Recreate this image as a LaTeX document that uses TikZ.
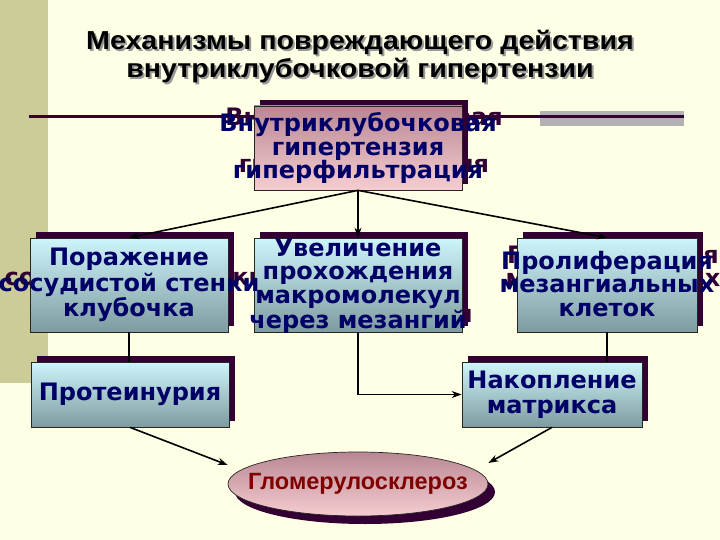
\documentclass[tikz,border=0pt]{standalone}
\usepackage{fontspec}
\setmainfont{DejaVu Sans}
\newfontfamily\titlefont{Liberation Sans}[FakeStretch=1.1]
\newfontfamily\ovalfont{Liberation Sans}
\usetikzlibrary{positioning, arrows.meta, shapes.geometric, shadows}
\definecolor{creambg}{RGB}{255,255,229}
\definecolor{khakiband}{RGB}{204,204,153}
\definecolor{shadowplum}{RGB}{51,0,51}
\definecolor{navytext}{RGB}{0,0,102}
\definecolor{sclerored}{RGB}{128,0,0}
\definecolor{bargrey}{RGB}{178,178,178}
\definecolor{cyantop}{RGB}{205,245,250}
\definecolor{cyanbot}{RGB}{125,155,160}
\definecolor{pinktop}{RGB}{185,135,148}
\definecolor{pinkbot}{RGB}{245,205,208}

\tikzset{
  box/.style={draw=black!85, line width=0.7pt, inner sep=0pt,
              top color=cyantop, bottom color=cyanbot,
              drop shadow={shadow xshift=6pt, shadow yshift=6pt, opacity=1, fill=shadowplum}},
  boxtext/.style={font=\fontsize{24}{23.5}\selectfont\bfseries, text=navytext,
                  align=center, inner sep=0pt},
  widetext/.style={font=\fontsize{24}{25.5}\selectfont\bfseries},
  ghost/.style={boxtext, text=shadowplum},
  titletext/.style={font=\titlefont\fontsize{26}{28}\selectfont\bfseries,
                    align=center, inner sep=0pt},
  oval/.style={ellipse, draw=black!85, line width=0.7pt, inner sep=0pt,
               minimum width=260pt, minimum height=64pt,
               top color=pinktop, bottom color=pinkbot,
               drop shadow={shadow xshift=7pt, shadow yshift=-8pt, opacity=1, fill=shadowplum}},
  ovaltext/.style={font=\ovalfont\fontsize{23.5}{26}\selectfont\bfseries, text=sclerored,
                   inner sep=0pt},
  arr/.style={-{Stealth[length=10pt, width=7pt]}, line width=1.6pt},
  link/.style={line width=1.6pt}
}

\begin{document}
\begin{tikzpicture}[x=1pt, y=-1pt]
  \useasboundingbox (0,0) rectangle (720,540);
  \fill[creambg] (0,0) rectangle (720,540);
  \fill[khakiband] (0,0) rectangle (48,383);
  \fill[bargrey] (540,111) rectangle (684,126);
  \draw[shadowplum, line width=3pt] (29,117) -- (684,117);

  % title
  \node[titletext, text=black!40] (title-s) at (362,59) {Механизмы повреждающего действия\\внутриклубочковой гипертензии};
  \node[titletext] (title) at (360,57) {Механизмы повреждающего действия\\внутриклубочковой гипертензии};

  \coordinate (c-hyper) at (358,148);
  \coordinate (c-porazh) at (129,285);
  \coordinate (c-uvelich) at (358,286);
  \coordinate (c-prolif) at (607,284);

  % text shadows behind the boxes
  \node[ghost] (hyper-g) at ([shift={(6,-6)}]c-hyper) {Внутриклубочковая\\гипертензия\\гиперфильтрация};
  \node[ghost, widetext] (porazh-g) at ([shift={(6,-6)}]c-porazh) {Поражение\\сосудистой стенки\\клубочка};
  \node[ghost] (uvelich-g) at ([shift={(6,-6)}]c-uvelich) {Увеличение\\прохождения\\макромолекул\\через мезангий};
  \node[ghost] (prolif-g) at ([shift={(6,-6)}]c-prolif) {Пролиферация\\мезангиальных\\клеток};

  % boxes
  \node[box, minimum width=208pt, minimum height=84pt, top color=pinktop, bottom color=pinkbot] (hyper) at (358,148) {};
  \node[box, minimum width=198pt, minimum height=94pt] (porazh) at (129,285) {};
  \node[box, minimum width=208pt, minimum height=94pt] (uvelich) at (358,285) {};
  \node[box, minimum width=180pt, minimum height=94pt] (prolif) at (607,285) {};
  \node[box, minimum width=198pt, minimum height=65pt] (protein) at (130,394.5) {};
  \node[box, minimum width=180pt, minimum height=65pt] (nakopl) at (552,394.5) {};
  \node[oval] (sclero) at (358,484) {};

  % texts
  \node[boxtext] (hyper-t) at (c-hyper) {Внутриклубочковая\\гипертензия\\гиперфильтрация};
  \node[boxtext, widetext] (porazh-t) at (c-porazh) {Поражение\\сосудистой стенки\\клубочка};
  \node[boxtext] (uvelich-t) at (c-uvelich) {Увеличение\\прохождения\\макромолекул\\через мезангий};
  \node[boxtext] (prolif-t) at (c-prolif) {Пролиферация\\мезангиальных\\клеток};
  \node[boxtext] (protein-t) at (protein) {Протеинурия};
  \node[boxtext, widetext] (nakopl-t) at (nakopl) {Накопление\\матрикса};
  \node[ovaltext] (sclero-t) at (sclero) {Гломерулосклероз};

  % connectors
  \draw[arr] (hyper.south) -- (porazh.north);
  \draw[arr] (hyper.south) -- (uvelich.north);
  \draw[arr] (hyper.south) -- (prolif.north);
  \draw[link] (porazh.south) -- (porazh.south |- protein.north);
  \draw[link] (prolif.south) -- (prolif.south |- nakopl.north);
  \draw[arr] (uvelich.south) |- (nakopl.west);
  \draw[arr] (protein.south) -- ([yshift=19pt]sclero.west);
  \draw[arr] (nakopl.south) -- ([yshift=21pt]sclero.east);
\end{tikzpicture}
\end{document}
